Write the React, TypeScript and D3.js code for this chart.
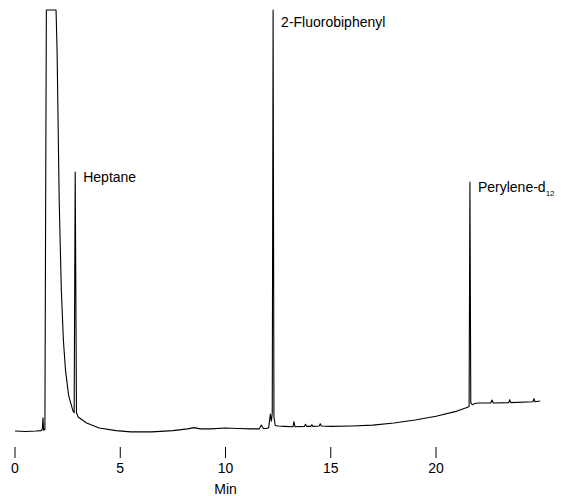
import React from 'react';
import * as d3 from 'd3';

// retention time (min) and detector signal (% of full scale)
const times = [
  0, 0.5, 1.0, 1.25, 1.3, 1.33, 1.36, 1.42, 1.46, 1.49, 1.95, 2.0, 2.1, 2.2, 2.3, 2.4, 2.55, 2.75, 2.81,
  2.86, 2.92, 3.0, 3.4, 4.0, 4.8, 5.5, 6.5, 7.5, 8.2, 8.5, 8.8, 9.3, 10.0, 10.6, 11.2, 11.6, 11.7, 11.8,
  11.95, 12.05, 12.13, 12.18, 12.22, 12.26, 12.3, 12.36, 12.5, 12.8, 13.2, 13.25, 13.3, 13.75, 13.8, 13.85,
  14.05, 14.1, 14.15, 14.45, 14.5, 14.55, 15.0, 16.0, 17.0, 18.0, 19.0, 20.0, 21.0, 21.5, 21.57, 21.61,
  21.65, 21.72, 21.85, 22.0, 22.6, 22.66, 22.72, 23.45, 23.5, 23.55, 24.6, 24.65, 24.7, 24.95,
];
const signal = [
  0.7, 0.6, 0.7, 0.8, 1.2, 3.8, 0.9, 1.0, 60, 100, 100, 90, 55, 34, 22, 15, 9, 5.5, 5.0,
  61.8, 5.0, 4.0, 2.6, 1.4, 0.8, 0.5, 0.5, 0.8, 1.2, 1.5, 1.2, 1.2, 1.4, 1.3, 1.2, 1.2, 2.1, 1.3,
  1.3, 1.5, 4.7, 3.0, 5.0, 100, 4.0, 2.0, 1.9, 1.8, 1.7, 2.9, 1.7, 1.8, 2.3, 1.8,
  1.8, 2.2, 1.8, 1.9, 2.4, 1.9, 1.8, 1.9, 2.1, 2.6, 3.3, 4.2, 5.4, 6.3, 6.5, 59.4,
  7.4, 6.9, 7.2, 7.3, 7.3, 8.0, 7.3, 7.4, 8.1, 7.4, 7.6, 8.3, 7.6, 7.8,
];

const peakNames = ['Heptane', '2-Fluorobiphenyl', 'Perylene-d'];
const peakSubs = ['', '', '12'];
const peakTimes = [2.86, 12.26, 21.61];
const peakHeights = [61.8, 100, 59.4];

const tickValues = [0, 5, 10, 15, 20];
const xLabel = 'Min';

const W = 565;
const H = 496;
const font = '"Liberation Sans", Arial, sans-serif';

export default function App() {
  const x = d3.scaleLinear().domain([0, 25]).range([15, 541.3]);
  const y = d3.scaleLinear().domain([0, 100]).range([434, 10]);

  const points = times.map((t, i) => [t, Math.min(signal[i], 100)] as [number, number]);
  const line = d3.line<[number, number]>()
    .x(d => x(d[0]))
    .y(d => y(d[1]));

  return (
    <svg width={W} height={H} style={{ position: 'absolute', left: 0, top: 0, background: '#fff' }}
      fontFamily={font}>
      <path d={line(points) || ''} fill="none" stroke="#000" strokeWidth={1.1} strokeLinejoin="round" />

      {peakNames.map((name, i) => (
        <text key={name} x={x(peakTimes[i]) + 8}
          y={Math.max(y(peakHeights[i]) + 10, 27)} fontSize={14} fill="#000">
          {name}
          {peakSubs[i] && <tspan fontSize={8} dy={4}>{peakSubs[i]}</tspan>}
        </text>
      ))}

      {tickValues.map(v => (
        <g key={v} transform={`translate(${x(v)},0)`}>
          <line y1={447} y2={458} stroke="#000" strokeWidth={1} />
          <text y={473} textAnchor="middle" fontSize={14} fill="#000">{v}</text>
        </g>
      ))}
      <text x={x(10)} y={494} textAnchor="middle" fontSize={14} fill="#000">{xLabel}</text>
    </svg>
  );
}
